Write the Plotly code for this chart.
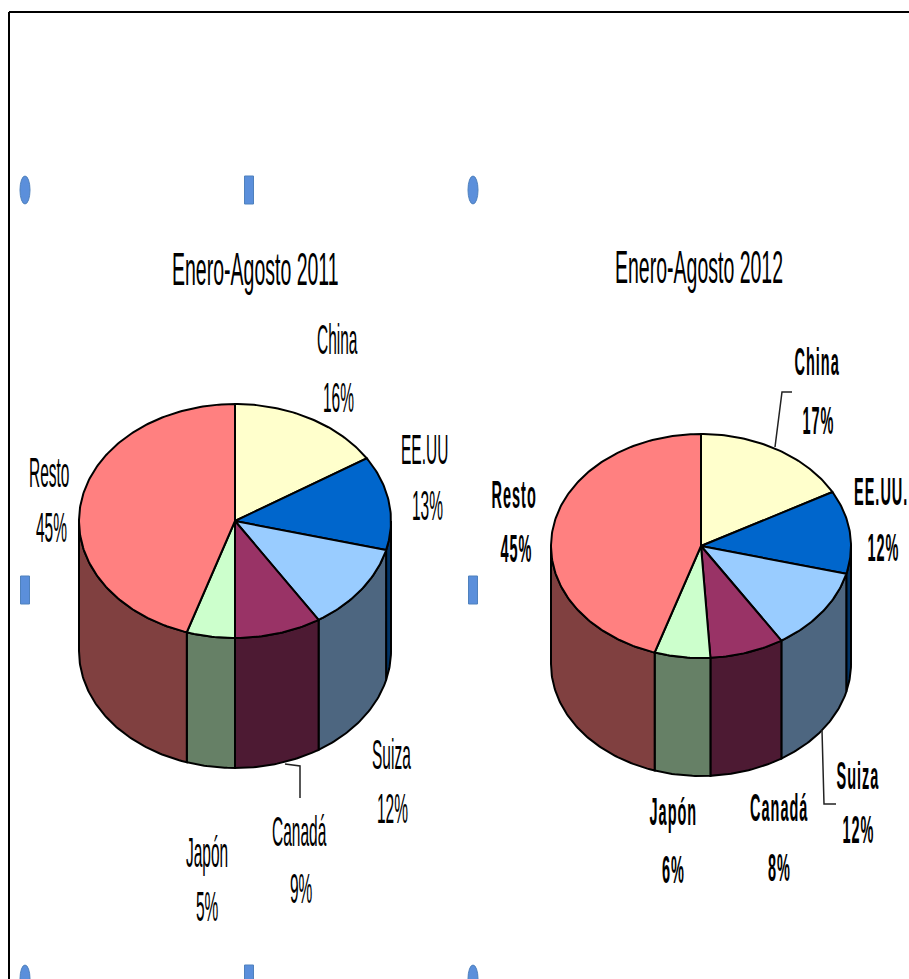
import numpy as np
import plotly.graph_objects as go

categories = ["China", "EE.UU", "Suiza", "Canadá", "Japón", "Resto"]
categories_2012 = ["China", "EE.UU.", "Suiza", "Canadá", "Japón", "Resto"]
values_2011 = [16, 13, 12, 9, 5, 45]
values_2012 = [17, 12, 12, 8, 6, 45]
title_2011 = "Enero-Agosto 2011"
title_2012 = "Enero-Agosto 2012"

top_colors = ["#FFFFCC", "#0066CC", "#99CCFF", "#993366", "#CCFFCC", "#FF8080"]
side_colors = ["#808066", "#003366", "#4D6680", "#4D1A33", "#668066", "#804040"]

# pie geometry: cx, cy, rx, ry, depth
pie_2011 = (235, 521, 156, 117, 130)
pie_2012 = (701, 546, 150, 112, 118)

# label centres: (name x, name y, pct x, pct y)
labels_2011 = [(337, 339, 338, 397), (424, 449, 427, 505), (391, 754, 392, 808),
               (299, 831, 301, 888), (207, 852, 207, 906), (49, 472, 51, 527)]
labels_2012 = [(817, 362, 818, 421), (881, 492, 883, 548), (858, 776, 858, 830),
               (779, 808, 779, 868), (673, 812, 673, 870), (514, 495, 516, 549)]
leaders = [([285, 300, 300], [764, 766, 798]),
           ([792, 782, 775], [392, 392, 447]),
           ([822, 824, 836], [730, 804, 804])]
round_handles = [(25, 190), (473, 190), (25, 979), (473, 979)]
square_handles = [(249, 190), (25, 590), (473, 590), (249, 979)]

NAME_FONT = "Liberation Sans Narrow, Liberation Sans, sans-serif"
BLACK = "#000000"
fig = go.Figure()


def arc(geom, t1, t2, dy=0.0):
    cx, cy, rx, ry, _ = geom
    t = np.radians(np.linspace(t1, t2, max(2, int(abs(t2 - t1)) + 2)))
    return cx + rx * np.sin(t), cy - ry * np.cos(t) + dy


def draw_pie(geom, values, names):
    cx, cy, _, _, depth = geom
    edges = np.cumsum([0] + list(values)) * 3.6
    for i, name in enumerate(names):
        a, b = max(edges[i], 90), min(edges[i + 1], 270)
        if b <= a:
            continue
        x1, y1 = arc(geom, a, b)
        x2, y2 = arc(geom, b, a, depth)
        fig.add_trace(go.Scatter(x=np.r_[x1, x2, x1[0]], y=np.r_[y1, y2, y1[0]], mode="lines",
                                 fill="toself", fillcolor=side_colors[i],
                                 line=dict(color=BLACK, width=2), name=name, showlegend=False))
    for i, name in enumerate(names):
        x, y = arc(geom, edges[i], edges[i + 1])
        fig.add_trace(go.Scatter(x=np.r_[cx, x, cx], y=np.r_[cy, y, cy], mode="lines",
                                 fill="toself", fillcolor=top_colors[i],
                                 line=dict(color=BLACK, width=2), name=name, showlegend=False,
                                 text=f"{name} {values[i]}%", hoverinfo="text"))


def put_labels(names, values, pos, bold, size):
    for name, v, (nx, ny, px, py) in zip(names, values, pos):
        for txt, x, y in ((name, nx, ny), (f"{v}%", px, py)):
            fig.add_annotation(x=x, y=y, text=f"<b>{txt}</b>" if bold else txt, showarrow=False,
                               xanchor="center", yanchor="middle",
                               font=dict(family=NAME_FONT, size=size, color=BLACK))


draw_pie(pie_2011, values_2011, categories)
draw_pie(pie_2012, values_2012, categories_2012)
put_labels(categories, values_2011, labels_2011, False, 15.5)
put_labels(categories_2012, values_2012, labels_2012, True, 14.5)
for txt, x, y in ((title_2011, 255, 268), (title_2012, 699, 266)):
    fig.add_annotation(x=x, y=y, text=txt, showarrow=False, xanchor="center", yanchor="middle",
                       font=dict(family=NAME_FONT, size=19.5, color=BLACK))
for lx, ly in leaders:
    fig.add_trace(go.Scatter(x=lx, y=ly, mode="lines", line=dict(color="#222222", width=1.5),
                             showlegend=False, hoverinfo="skip"))

shapes = [dict(type="line", x0=9, x1=9, y0=12, y1=979, line=dict(color=BLACK, width=2)),
          dict(type="line", x0=9, x1=909, y0=12, y1=12, line=dict(color=BLACK, width=2))]
for x, y in round_handles:
    shapes.append(dict(type="circle", x0=x - 5, x1=x + 5, y0=y - 14, y1=y + 14,
                       fillcolor="#5B8FDB", line=dict(color="#4F81BD", width=1)))
for x, y in square_handles:
    shapes.append(dict(type="rect", x0=x - 4.5, x1=x + 4.5, y0=y - 14, y1=y + 14,
                       fillcolor="#5B8FDB", line=dict(color="#4F81BD", width=1)))

fig.update_layout(width=909, height=979, margin=dict(l=0, r=0, t=0, b=0), showlegend=False,
                  paper_bgcolor="white", plot_bgcolor="white", shapes=shapes,
                  xaxis=dict(range=[0, 909], visible=False, fixedrange=True),
                  yaxis=dict(range=[979, 0], visible=False, fixedrange=True))

# Drop the page margin; the reference's text is squeezed sideways, so stretch it
# vertically about its own centre, with a little tracking on the bold labels.
post = """
document.body.style.margin='0';
document.querySelectorAll('.annotation-text').forEach(function(t){
  var bold=t.innerHTML.indexOf('bold')>=0;
  if(bold){t.style.letterSpacing='1px';}
  var big=parseFloat(t.style.fontSize)>=19;
  var b=t.getBBox(), cx=b.x+b.width/2, cy=b.y+b.height/2, k=big?2.4:2.7;
  t.setAttribute('transform','translate('+cx+' '+cy+') scale(1 '+k+') translate('+(-cx)+' '+(-cy)+')');
});
"""
fig.write_html("out.html", config={"displayModeBar": False}, post_script=post)
